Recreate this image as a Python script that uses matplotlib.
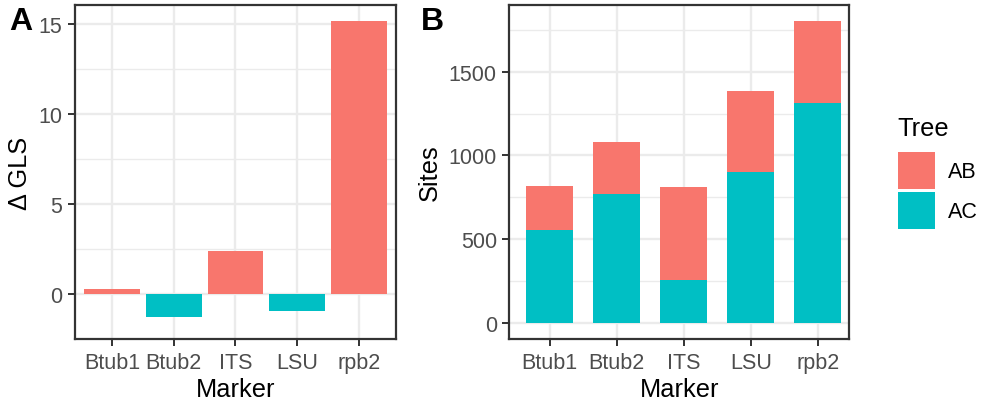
import matplotlib
matplotlib.use('Agg')
import matplotlib.pyplot as plt
from matplotlib.patches import Patch
import numpy as np

plt.rcParams['font.family'] = ['Liberation Sans', 'DejaVu Sans']

# data
markers = ['Btub1', 'Btub2', 'ITS', 'LSU', 'rpb2']
delta_gls = [0.27, -1.29, 2.39, -0.96, 15.15]
sites_ac = [555, 770, 257, 901, 1314]
sites_ab = [262, 310, 554, 483, 488]
tree_labels = ['AB', 'AC']

col_ab = '#F8766D'
col_ac = '#00BFC4'
grid_col = '#EBEBEB'
border_col = '#333333'
tick_col = '#4D4D4D'


def style_axes(ax, major, minor):
    ax.set_facecolor('white')
    ax.set_yticks(major)
    ax.set_yticks(minor, minor=True)
    ax.tick_params(axis='y', which='minor', length=0)
    ax.grid(True, which='major', color=grid_col, linewidth=1.7, zorder=0)
    ax.grid(True, which='minor', axis='y', color=grid_col, linewidth=1.0, zorder=0)
    ax.set_axisbelow(True)
    for s in ax.spines.values():
        s.set_color(border_col)
        s.set_linewidth(1.6)
    ax.tick_params(which='major', length=5, width=1.4, color=border_col,
                   labelsize=15.5, labelcolor=tick_col, pad=4)
    ax.set_xlabel('Marker', fontsize=18.3, labelpad=3)


fig = plt.figure(figsize=(9.84, 4.02), dpi=100)
x = np.arange(1, len(markers) + 1)

# panel A
axA = fig.add_axes([0.0762, 0.1542, 0.3262, 0.8308])
colors_a = [col_ab if v >= 0 else col_ac for v in delta_gls]
axA.bar(x, delta_gls, width=0.9, color=colors_a, zorder=2)
axA.set_xlim(0.4, 5.6)
axA.set_ylim(-2.12, 16.03)
axA.set_xticks(x)
axA.set_xticklabels(markers)
style_axes(axA, [0, 5, 10, 15], [-2.5, 2.5, 7.5, 12.5])
axA.set_ylabel('\u0394 GLS', fontsize=18.3, labelpad=5)

# panel B
axB = fig.add_axes([0.5176, 0.1542, 0.3455, 0.8308])
axB.bar(x, sites_ac, width=0.7, color=col_ac, zorder=2)
axB.bar(x, sites_ab, width=0.7, bottom=sites_ac, color=col_ab, zorder=2)
axB.set_xlim(0.4, 5.47)
axB.set_ylim(-95, 1897)
axB.set_xticks(x)
axB.set_xticklabels(markers)
style_axes(axB, [0, 500, 1000, 1500], [250, 750, 1250, 1750])
axB.set_ylabel('Sites', fontsize=18.3, labelpad=5)

# panel tags
fig.text(0.009, 0.926, 'A', fontsize=23, fontweight='bold')
fig.text(0.428, 0.926, 'B', fontsize=23, fontweight='bold')

# legend (title drawn separately so the gap to the keys matches ggplot)
fig.text(0.9116, 0.6617, 'Tree', fontsize=18.3, va='baseline', ha='left')
handles = [Patch(facecolor=col_ab), Patch(facecolor=col_ac)]
leg = fig.legend(handles, tree_labels, loc='upper left',
                 bbox_to_anchor=(0.9126, 0.6194), frameon=False, fontsize=15.5,
                 handlelength=1.72, handleheight=2.27,
                 labelspacing=0.14, handletextpad=0.62,
                 borderpad=0, borderaxespad=0)

fig.savefig('out.png', dpi=100)
